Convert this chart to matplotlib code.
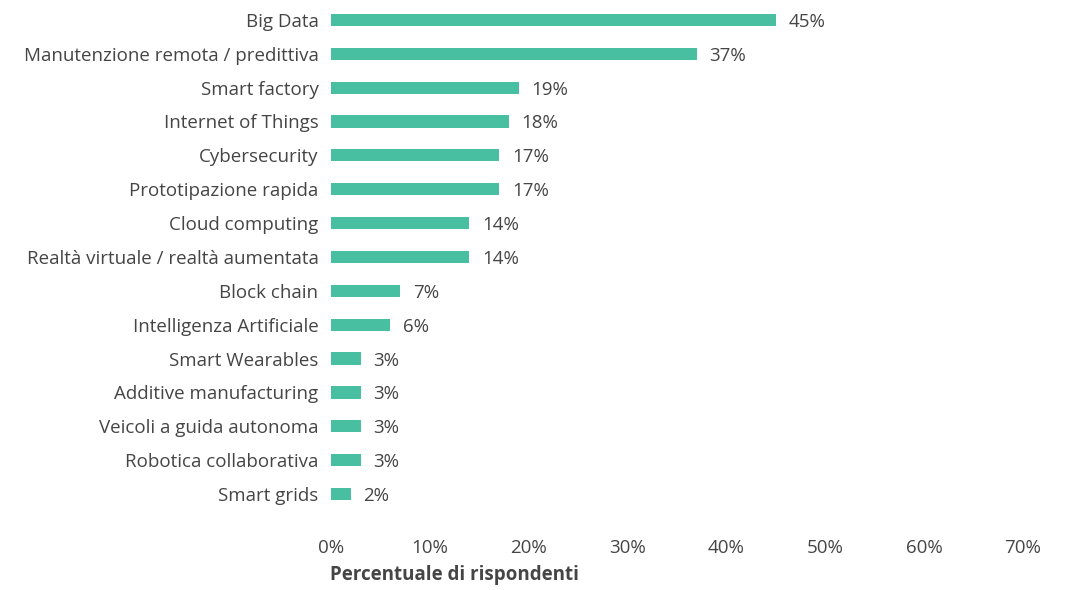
import numpy as np
import matplotlib.pyplot as plt

categories = ["Big Data", "Manutenzione remota / predittiva", "Smart factory",
              "Internet of Things", "Cybersecurity", "Prototipazione rapida",
              "Cloud computing", "Realtà virtuale / realtà aumentata",
              "Block chain", "Intelligenza Artificiale", "Smart Wearables",
              "Additive manufacturing", "Veicoli a guida autonoma",
              "Robotica collaborativa", "Smart grids"]
values = [45, 37, 19, 18, 17, 17, 14, 14, 7, 6, 3, 3, 3, 3, 2]
xticks = [0, 10, 20, 30, 40, 50, 60, 70]

bar_col = "#48bfa0"
txt_col = "#454545"
plt.rcParams['font.family'] = ['Open Sans', 'DejaVu Sans']
fs = 13.5

fig = plt.figure(figsize=(10.78, 5.9), dpi=100)
ax = fig.add_axes([0.307, 0.134, 0.642, 0.861])

y = np.arange(len(categories))
ax.barh(y, values, height=0.36, color=bar_col)
for yi, v in zip(y, values):
    ax.text(v + 1.3, yi, f"{v}%", va='center_baseline', ha='left', fontsize=fs, color=txt_col)

ax.set_ylim(len(categories) - 0.5, -0.5)
ax.set_xlim(0, 70)
ax.set_yticks(y)
ax.set_yticklabels(categories, fontsize=fs, color=txt_col, va='center_baseline')
ax.set_xticks(xticks)
ax.set_xticklabels([f"{t}%" for t in xticks], fontsize=fs, color=txt_col)
ax.tick_params(axis='y', length=0, pad=9)
ax.tick_params(axis='x', length=0, pad=20)
for s in ax.spines.values():
    s.set_visible(False)

fig.text(0.306, 0.008, "Percentuale di rispondenti", fontsize=fs, fontweight='bold',
         color=txt_col, ha='left', va='bottom')

fig.savefig("out.png", dpi=100)
